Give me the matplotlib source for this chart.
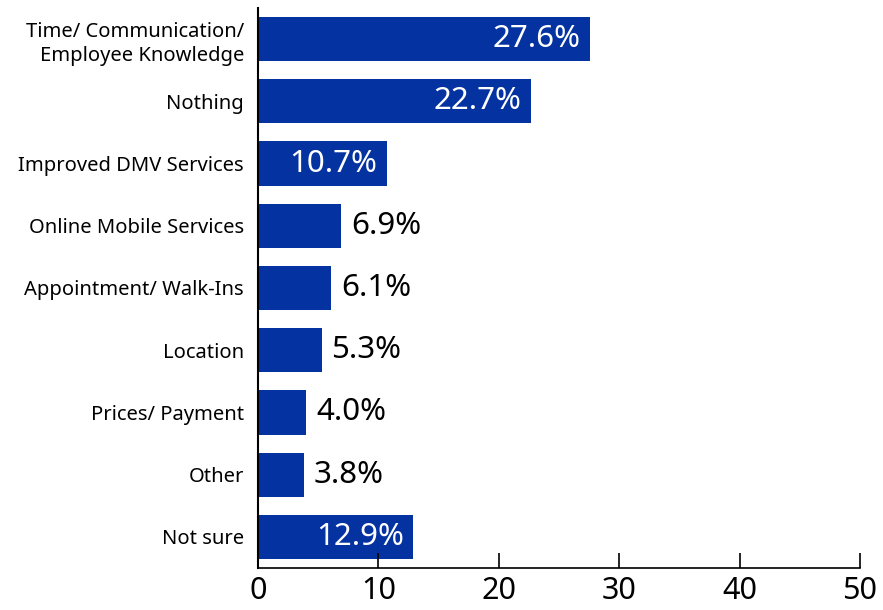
import matplotlib.pyplot as plt

plt.rcParams['font.family'] = ['Noto Sans', 'DejaVu Sans']

categories = [
    'Time/ Communication/\nEmployee Knowledge',
    'Nothing',
    'Improved DMV Services',
    'Online Mobile Services',
    'Appointment/ Walk-Ins',
    'Location',
    'Prices/ Payment',
    'Other',
    'Not sure',
]
values = [27.6, 22.7, 10.7, 6.9, 6.1, 5.3, 4.0, 3.8, 12.9]
ticks = [0, 10, 20, 30, 40, 50]

bar_color = '#0433a1'

fig = plt.figure(figsize=(8.83, 6.10), dpi=100)
ax = fig.add_axes([0.2922, 0.0689, 0.6818, 0.918])

ypos = list(range(len(categories)))
ax.barh(ypos, values, height=0.71, color=bar_color)

# big bars get the label inside in white, short ones outside in black
for y, v in zip(ypos, values):
    txt = f'{v:.1f}%'
    if v >= 10:
        ax.annotate(txt, (v, y), xytext=(-7, 0), textcoords='offset points',
                    ha='right', va='center', color='white', fontsize=22.5)
    else:
        ax.annotate(txt, (v, y), xytext=(7, 0), textcoords='offset points',
                    ha='left', va='center', color='black', fontsize=22.5)

ax.set_ylim(len(categories) - 0.5, -0.5)
ax.set_xlim(0, 50)
ax.set_yticks(ypos)
ax.set_yticklabels(categories, fontsize=14.5, linespacing=1.3)
ax.set_xticks(ticks)
ax.set_xticklabels([str(t) for t in ticks], fontsize=22)

ax.tick_params(axis='y', length=0, pad=10)
ax.tick_params(axis='x', direction='in', length=11, width=1.2, pad=6)

for side in ['top', 'right']:
    ax.spines[side].set_visible(False)
ax.spines['left'].set_linewidth(1.5)
ax.spines['bottom'].set_linewidth(1.2)

fig.savefig('out.png', dpi=100)
